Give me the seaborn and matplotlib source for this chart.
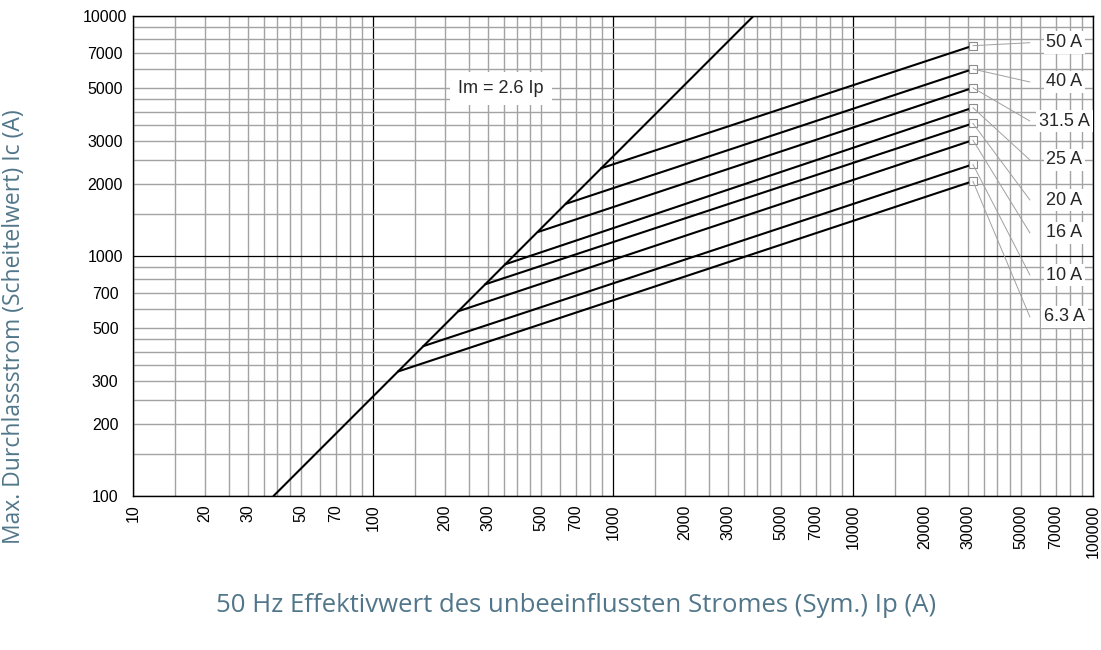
import pandas as pd
import seaborn as sns
import matplotlib.pyplot as plt
from matplotlib.ticker import FixedLocator, FuncFormatter

# fuse ratings and their let-through curves (knee on Im = 2.6 Ip line, end at ~31.6 kA)
ratings = ['6.3 A', '10 A', '16 A', '20 A', '25 A', '31.5 A', '40 A', '50 A']
knee_ip = [127, 162, 226, 293, 355, 488, 636, 892]
knee_ic = [330, 421, 588, 762, 923, 1260, 1650, 2320]
end_ip = [31600, 31600, 31600, 31600, 31600, 31600, 31600, 31600]
end_ic = [2050, 2410, 3040, 3570, 4150, 5020, 6010, 7520]

# Im = 2.6 Ip line
diag_ip = [38.5, 3850]
diag_ic = [100, 10000]

x_ticklabels = [10, 20, 30, 50, 70, 100, 200, 300, 500, 700, 1000, 2000, 3000,
                5000, 7000, 10000, 20000, 30000, 50000, 70000, 100000]
y_ticklabels = [100, 200, 300, 500, 700, 1000, 2000, 3000, 5000, 7000, 10000]
grid_mantissa = [1.5, 2, 2.5, 3, 3.5, 4, 4.5, 5, 6, 7, 8, 9]

# where the rating labels sit on the right
label_ic = [557, 833, 1248, 1711, 2512, 3651, 5309, 7740]

sns.set_style('white')
plt.rcParams['font.family'] = ['Liberation Sans', 'DejaVu Sans']

fig = plt.figure(figsize=(11.01, 6.5), dpi=100)
ax = fig.add_axes([133 / 1101, 154 / 650, 960 / 1101, 480 / 650])
ax.set(xscale='log', yscale='log')

rows = []
for r, x0, y0, x1, y1 in zip(ratings, knee_ip, knee_ic, end_ip, end_ic):
    rows.append({'rating': r, 'Ip': x0, 'Ic': y0})
    rows.append({'rating': r, 'Ip': x1, 'Ic': y1})
fuse = pd.DataFrame(rows)
diag = pd.DataFrame({'Ip': diag_ip, 'Ic': diag_ic})

sns.lineplot(data=diag, x='Ip', y='Ic', color='black', lw=1.5, ax=ax, zorder=3)
sns.lineplot(data=fuse, x='Ip', y='Ic', units='rating', estimator=None, sort=False,
             color='black', lw=1.5, ax=ax, zorder=3)

ends = pd.DataFrame({'Ip': end_ip, 'Ic': end_ic})
sns.scatterplot(data=ends, x='Ip', y='Ic', marker='s', s=28, facecolor='white',
                edgecolor='#8c8c8c', linewidth=0.8, ax=ax, zorder=4)

for r, x1, y1, ly in zip(ratings, end_ip, end_ic, label_ic):
    ax.plot([x1, 54600], [y1, ly], color='#a0a0a0', lw=0.7, zorder=4)
    ax.text(76000, ly, r, ha='center', va='center', fontsize=13, zorder=5,
            bbox=dict(boxstyle='square,pad=0.15', fc='white', ec='none'))

ax.text(341, 5000, 'Im = 2.6 Ip', ha='center', va='center', fontsize=13, zorder=5,
        bbox=dict(boxstyle='square,pad=0.45', fc='white', ec='none'))

ax.set_xlim(10, 100000)
ax.set_ylim(100, 10000)

decades_x = [10, 100, 1000, 10000, 100000]
decades_y = [100, 1000, 10000]
minor_x = [m * d for d in decades_x[:-1] for m in grid_mantissa]
minor_y = [m * d for d in decades_y[:-1] for m in grid_mantissa]


def fmt_x(v, pos):
    return str(int(round(v))) if int(round(v)) in x_ticklabels else ''


def fmt_y(v, pos):
    return str(int(round(v))) if int(round(v)) in y_ticklabels else ''


ax.xaxis.set_major_locator(FixedLocator(decades_x))
ax.xaxis.set_minor_locator(FixedLocator(minor_x))
ax.yaxis.set_major_locator(FixedLocator(decades_y))
ax.yaxis.set_minor_locator(FixedLocator(minor_y))
ax.xaxis.set_major_formatter(FuncFormatter(fmt_x))
ax.xaxis.set_minor_formatter(FuncFormatter(fmt_x))
ax.yaxis.set_major_formatter(FuncFormatter(fmt_y))
ax.yaxis.set_minor_formatter(FuncFormatter(fmt_y))

ax.grid(which='major', color='black', lw=0.9)
ax.grid(which='minor', color='#a3a3a3', lw=1.0)
ax.set_axisbelow(True)

ax.tick_params(axis='both', which='both', length=0, labelsize=11.5, colors='black')
ax.tick_params(axis='x', which='both', pad=6, labelrotation=90)
ax.tick_params(axis='y', which='both', pad=20)
plt.setp(ax.yaxis.get_majorticklabels(), ha='center')
plt.setp(ax.yaxis.get_minorticklabels(), ha='center')

for s in ax.spines.values():
    s.set_color('black')
    s.set_linewidth(1.0)

ax.set_xlabel('')
ax.set_ylabel('')
label_color = '#51768a'
fig.text(0.523, 0.068, '50 Hz Effektivwert des unbeeinflussten Stromes (Sym.) Ip (A)',
         ha='center', va='center', fontsize=18.5, color=label_color,
         family=['Open Sans', 'DejaVu Sans'])
fig.text(0.0127, 0.497, 'Max. Durchlassstrom (Scheitelwert) Ic (A)', rotation=90,
         ha='center', va='center', fontsize=16.5, color=label_color,
         family=['Open Sans', 'DejaVu Sans'])

fig.savefig('out.png', dpi=100)
